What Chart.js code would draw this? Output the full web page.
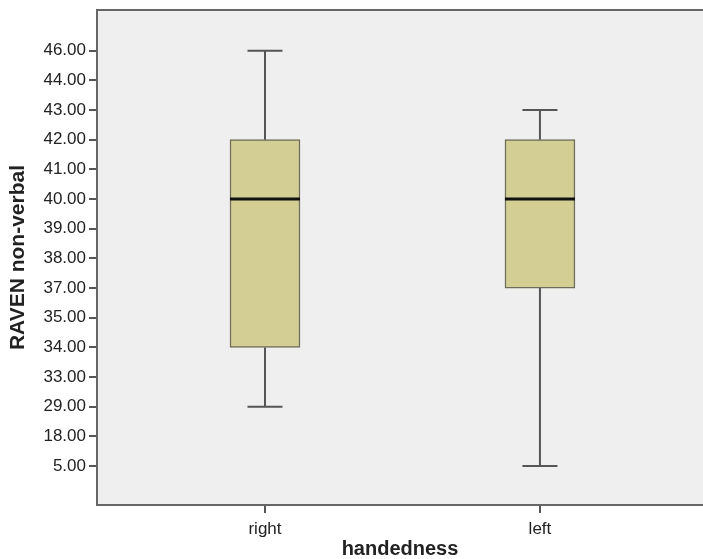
<!DOCTYPE html>
<html>
<head>
<meta charset="utf-8">
<script src="https://cdn.jsdelivr.net/npm/chart.js@4/dist/chart.umd.min.js"></script>
<style>
  html, body { margin: 0; padding: 0; background: #fff; overflow: hidden; }
  #wrap { width: 703px; height: 559px; position: relative; }
</style>
</head>
<body>
<div id="wrap"><canvas id="grafico"></canvas></div>
<script>
// datos (eje Y ordinal, como lo dibuja SPSS)
const categorias = ['right', 'left'];
const valoresEjeY = [5, 18, 29, 33, 34, 35, 37, 38, 39, 40, 41, 42, 43, 44, 46];
const minimos = [29, 5];
const cuartil1 = [34, 37];
const medianas = [40, 40];
const cuartil3 = [42, 42];
const maximos = [46, 43];

const posY = (v) => valoresEjeY.indexOf(v);

const cajas = categorias.map((c, i) => ({ x: i, y: [posY(cuartil1[i]), posY(cuartil3[i])] }));

const fondoPlugin = {
    id: 'fondo',
    beforeDraw(chart) {
        const { ctx, chartArea: a } = chart;
        ctx.save();
        ctx.fillStyle = '#efefef';
        ctx.fillRect(a.left, a.top, a.right - a.left, a.bottom - a.top);
        ctx.strokeStyle = '#666';
        ctx.lineWidth = 2;
        ctx.beginPath();
        ctx.moveTo(a.left, a.top);
        ctx.lineTo(a.right, a.top);
        ctx.stroke();
        ctx.restore();
    }
};

const bigotesPlugin = {
    id: 'bigotes',
    afterDatasetsDraw(chart) {
        const { ctx, scales } = chart;
        const x = scales.x, y = scales.y;
        const anchoCaja = 70;
        ctx.save();
        categorias.forEach((c, i) => {
            const cx = x.getPixelForValue(i);
            const yMin = y.getPixelForValue(posY(minimos[i]));
            const yMax = y.getPixelForValue(posY(maximos[i]));
            const yQ1 = y.getPixelForValue(posY(cuartil1[i]));
            const yQ3 = y.getPixelForValue(posY(cuartil3[i]));
            const yMed = y.getPixelForValue(posY(medianas[i]));

            ctx.strokeStyle = '#555';
            ctx.lineWidth = 2;
            ctx.beginPath();
            ctx.moveTo(cx, yQ3); ctx.lineTo(cx, yMax);
            ctx.moveTo(cx - anchoCaja / 4, yMax); ctx.lineTo(cx + anchoCaja / 4, yMax);
            ctx.moveTo(cx, yQ1); ctx.lineTo(cx, yMin);
            ctx.moveTo(cx - anchoCaja / 4, yMin); ctx.lineTo(cx + anchoCaja / 4, yMin);
            ctx.stroke();

            ctx.strokeStyle = '#111';
            ctx.lineWidth = 3;
            ctx.beginPath();
            ctx.moveTo(cx - anchoCaja / 2, yMed); ctx.lineTo(cx + anchoCaja / 2, yMed);
            ctx.stroke();
        });
        ctx.restore();
    }
};

new Chart(document.getElementById('grafico'), {
    type: 'bar',
    data: {
        datasets: [{
            data: cajas,
            backgroundColor: 'rgb(211, 207, 148)',
            borderColor: '#6f6d5a',
            borderWidth: 1.5,
            borderSkipped: false,
            barThickness: 70
        }]
    },
    options: {
        responsive: true,
        maintainAspectRatio: false,
        animation: false,
        layout: { padding: { top: 10, right: 0, left: 0, bottom: 0 } },
        plugins: {
            legend: { display: false },
            tooltip: { enabled: false }
        },
        scales: {
            x: {
                type: 'linear',
                offset: false,
                min: -0.611,
                max: 1.593,
                afterBuildTicks: (s) => { s.ticks = categorias.map((c, i) => ({ value: i })); },
                afterFit: (s) => { s.height = 54; },
                ticks: {
                    callback: (v) => categorias[v],
                    font: { family: 'Liberation Sans', size: 17 },
                    color: '#222',
                    padding: 6,
                    autoSkip: false,
                    maxRotation: 0
                },
                grid: { drawOnChartArea: false, offset: false, color: '#555', tickLength: 8, lineWidth: 2 },
                border: { display: true, color: '#666', width: 2 },
                title: {
                    display: true,
                    text: 'handedness',
                    font: { family: 'Liberation Sans', size: 20, weight: 'bold' },
                    color: '#222',
                    padding: { top: 0, bottom: -2 }
                }
            },
            y: {
                type: 'linear',
                min: -1.31,
                max: 15.37,
                afterBuildTicks: (s) => { s.ticks = valoresEjeY.map((v, i) => ({ value: i })); },
                afterFit: (s) => { s.width = 97; s.paddingTop = 0; s.paddingBottom = 0; },
                ticks: {
                    callback: (v) => valoresEjeY[v].toFixed(2),
                    font: { family: 'Liberation Sans', size: 17 },
                    color: '#222',
                    padding: 3,
                    autoSkip: false
                },
                grid: { drawOnChartArea: false, color: '#555', tickLength: 8, lineWidth: 2 },
                border: { display: true, color: '#666', width: 2 },
                title: {
                    display: true,
                    text: 'RAVEN non-verbal',
                    font: { family: 'Liberation Sans', size: 21, weight: 'bold' },
                    color: '#222',
                    padding: { top: 6, bottom: 0 }
                }
            }
        }
    },
    plugins: [fondoPlugin, bigotesPlugin]
});
</script>
</body>
</html>
